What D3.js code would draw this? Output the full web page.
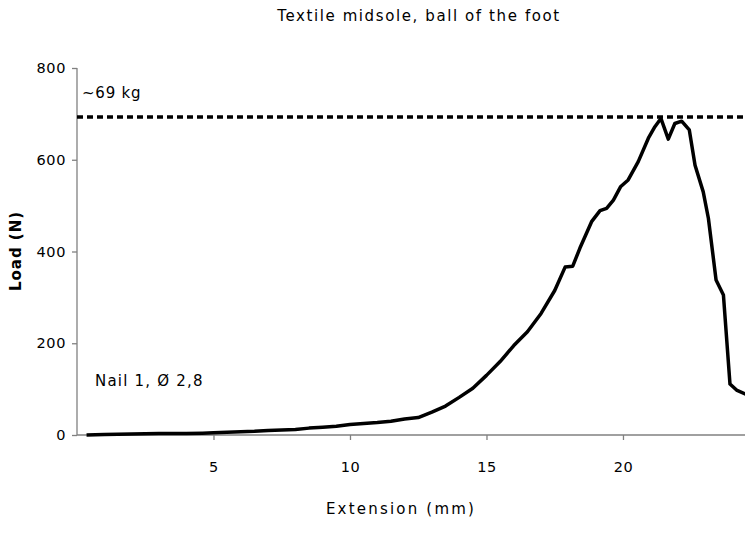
<!DOCTYPE html>
<html>
<head>
<meta charset="utf-8">
<script src="https://cdn.jsdelivr.net/npm/d3@7"></script>
<style>
  body { margin: 0; background: #fff; }
  text { font-family: "DejaVu Sans", Verdana, sans-serif; fill: #000; }
</style>
</head>
<body>
<svg id="chart" width="745" height="548"></svg>
<script>
// extension (mm) and load (N)
var extension = [0.35, 1, 2, 3, 4, 4.6, 5, 5.5, 6, 6.5, 7, 7.5, 8, 8.5, 9, 9.5, 10, 10.5, 11, 11.5,
  12, 12.5, 13, 13.5, 14, 14.5, 15, 15.5, 16, 16.5, 17, 17.5, 17.88, 18.16, 18.42, 18.85, 19.16, 19.4,
  19.65, 19.91, 20.19, 20.56, 20.93, 21.17, 21.39, 21.66, 21.9, 22.15, 22.43, 22.64, 22.94, 23.13,
  23.41, 23.68, 23.92, 24.16, 24.5];
var load = [0, 1, 2, 3.5, 3, 4, 5, 6, 7, 8, 10, 11, 12, 15, 17, 19, 23, 25, 27, 30,
  35, 38, 50, 63, 82, 102, 130, 160, 195, 225, 265, 315, 366, 368, 407, 465, 489, 494,
  512, 541, 556, 596, 647, 672, 690, 645, 679, 684, 665, 588, 530, 472,
  338, 305, 111, 98, 89];
var yTicks = [0, 200, 400, 600, 800];
var xTicks = [5, 10, 15, 20];
var limitLoad = 693;

var svg = d3.select("#chart");
var margin = {top: 68, right: 0, bottom: 113, left: 77};
var width = 745 - margin.left - margin.right,
    height = 548 - margin.top - margin.bottom;

var x = d3.scaleLinear().domain([0, 24.47]).range([0, width]);
var y = d3.scaleLinear().domain([0, 800]).range([height, 0]);

var g = svg.append("g")
  .attr("transform", `translate(${margin.left},${margin.top})`);

// axes
var yAxis = g.append("g")
  .call(d3.axisLeft(y).tickValues(yTicks).tickSize(5).tickPadding(6).tickFormat(d3.format("d")));
var xAxis = g.append("g")
  .attr("transform", `translate(0,${height})`)
  .call(d3.axisBottom(x).tickValues(xTicks).tickSize(5).tickPadding(22));
[yAxis, xAxis].forEach(function (a) {
  a.select(".domain").attr("stroke", "#808080").attr("stroke-width", 1.3);
  a.selectAll(".tick line").attr("stroke", "#808080").attr("stroke-width", 1.3);
  a.selectAll("text")
    .style("font-size", "14.5px")
    .style("letter-spacing", "0.6px")
    .style("font-family", "DejaVu Sans, Verdana, sans-serif");
});
yAxis.select(".domain").attr("d", `M0,${height}V0`);
xAxis.select(".domain").attr("d", `M0,0H${width}`);

// dashed limit line
g.append("line")
  .attr("x1", 0).attr("x2", width)
  .attr("y1", y(limitLoad)).attr("y2", y(limitLoad))
  .attr("stroke", "#000")
  .attr("stroke-width", 3.5)
  .attr("stroke-dasharray", "6,4");

// curve
var line = d3.line()
  .x(function (d, i) { return x(extension[i]); })
  .y(function (d) { return y(d); });

g.append("path")
  .datum(load)
  .attr("fill", "none")
  .attr("stroke", "#000")
  .attr("stroke-width", 3.5)
  .attr("stroke-linejoin", "round")
  .attr("d", line);

// labels
svg.append("text")
  .attr("x", 419).attr("y", 21)
  .attr("text-anchor", "middle")
  .style("font-size", "15px")
  .style("letter-spacing", "1.6px")
  .text("Textile midsole, ball of the foot");

svg.append("text")
  .attr("transform", "translate(21,251) rotate(-90)")
  .attr("text-anchor", "middle")
  .style("font-size", "15px")
  .style("font-weight", "bold")
  .style("letter-spacing", "1px")
  .text("Load (N)");

svg.append("text")
  .attr("x", 401).attr("y", 514)
  .attr("text-anchor", "middle")
  .style("font-size", "15px")
  .style("letter-spacing", "2.2px")
  .text("Extension (mm)");

svg.append("text")
  .attr("x", 82).attr("y", 98)
  .style("font-size", "15px")
  .style("letter-spacing", "0.8px")
  .text("~69 kg");

svg.append("text")
  .attr("x", 95).attr("y", 386)
  .style("font-size", "15px")
  .style("letter-spacing", "1.2px")
  .text("Nail 1, Ø 2,8");
</script>
</body>
</html>
